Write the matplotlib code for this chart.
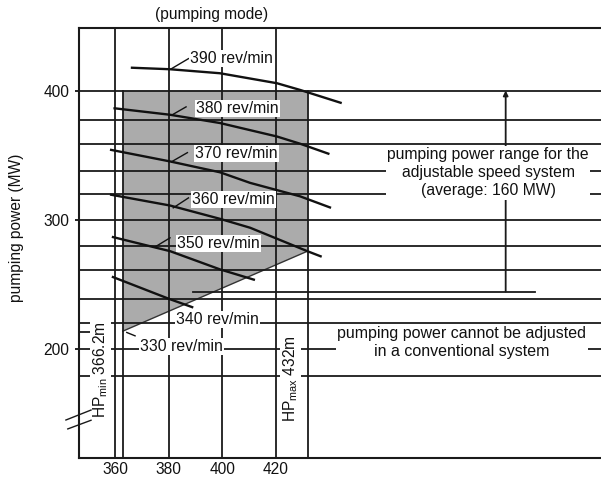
import matplotlib
matplotlib.use('Agg')
import matplotlib.pyplot as plt

plt.rcParams['font.family'] = ['Liberation Sans', 'DejaVu Sans']

# ---------------- data ----------------
x_ticks = [360, 380, 400, 420]
y_ticks = [200, 300, 400]
hp_min_pos = 362.8          # drawn position of the HPmin line
hp_max_pos = 432
h_lines = [400, 377.4, 358.9, 337.5, 320.1, 300, 280, 261.5, 238.9, 220.4, 200, 179.4]

# operating range (grey area)
range_x = [hp_min_pos, hp_max_pos, hp_max_pos, hp_min_pos]
range_y = [400, 400, 275.8, 213.9]

# speed curves
speeds = ['390 rev/min', '380 rev/min', '370 rev/min', '360 rev/min', '350 rev/min', '340 rev/min']
curve_x = [
    [365.8, 380.5, 399.2, 420.5, 429.2, 444.8],
    [359.3, 380.5, 399.2, 420.5, 429.2, 440.2],
    [358.0, 380.5, 399.2, 410.5, 429.2, 440.8],
    [358.0, 380.5, 399.2, 410.5, 431.9, 437.3],
    [358.7, 380.5, 399.2, 412.3],
    [358.7, 380.5, 389.2],
]
curve_y = [
    [417.7, 416.5, 413.4, 405.7, 400.5, 390.3],
    [386.4, 381.3, 374.9, 364.5, 358.9, 350.9],
    [354.3, 345.2, 336.8, 328.6, 318.2, 309.3],
    [319.6, 311.1, 300.8, 293.9, 275.8, 271.5],
    [286.9, 275.8, 261.7, 253.5],
    [256.1, 238.6, 232.2],
]
label_names = ['390 rev/min', '380 rev/min', '370 rev/min', '360 rev/min',
               '350 rev/min', '340 rev/min', '330 rev/min']
label_x = [388.0, 390.2, 389.9, 388.6, 383.2, 382.7, 369.3]
label_y = [425.0, 386.4, 351.2, 315.7, 281.8, 223.1, 202.1]
leader_x = [(381.1, 387.4), (381.1, 386.5), (381.1, 387.0), (381.7, 387.4), (374.9, 380.5), None, (364.3, 367.4)]
leader_y = [(417.0, 424.7), (381.0, 387.4), (345.0, 352.0), (309.3, 317.0), (279.1, 286.1), None, (212.9, 210.3)]

range_top = 400
range_bottom = 244.5
arrow_x = 506.2
range_line_x = (389.0, 517.2)

# ---------------- figure ----------------
fig = plt.figure(figsize=(6.01, 4.79), dpi=100)
ax = fig.add_axes([79 / 601, (479 - 457.5) / 479, (601 - 79) / 601, (457.5 - 28) / 479])
ax.set_xlim(346.4, 541.9)
ax.set_ylim(116.2, 448.4)

lc = '#1a1a1a'
ax.fill(range_x, range_y, color='#ababab', lw=0, zorder=1)
ax.plot([range_x[3], range_x[2]], [range_y[3], range_y[2]], color='#333333', lw=1.0, zorder=2)

for yv in h_lines:
    ax.axhline(yv, color=lc, lw=1.3, zorder=2)
ax.plot([346.4, 351.5], [212.9, 212.9], color=lc, lw=1.3, zorder=2)
for xv in x_ticks:
    ax.axvline(xv, color=lc, lw=1.3, zorder=2)
for xv in (hp_min_pos, hp_max_pos):
    ax.plot([xv, xv], [116.2, 400], color=lc, lw=1.3, zorder=2)

for cx, cy in zip(curve_x, curve_y):
    ax.plot(cx, cy, color='#111111', lw=1.7, zorder=3, solid_capstyle='butt')

for lx, ly in zip(leader_x, leader_y):
    if lx is not None:
        ax.plot(lx, ly, color='#111111', lw=1.0, zorder=3)

box = dict(facecolor='white', edgecolor='none', pad=0.8)
for name, tx, ty in zip(label_names, label_x, label_y):
    ax.text(tx, ty, name, ha='left', va='center', fontsize=11.3, color='#111111',
            bbox=box, zorder=6)

# power range arrow
ax.annotate('', xy=(arrow_x, range_top), xytext=(arrow_x, range_bottom),
            arrowprops=dict(arrowstyle='-|>', color=lc, lw=1.3, mutation_scale=7,
                            shrinkA=0, shrinkB=0), zorder=4)
ax.plot(range_line_x, [range_bottom, range_bottom], color=lc, lw=1.3, zorder=4)

ax.text(499.6, 336.4, 'pumping power range for the\nadjustable speed system\n(average: 160 MW)',
        ha='center', va='center', fontsize=11.3, linespacing=1.25, color='#111111',
        bbox=dict(facecolor='white', edgecolor='none', pad=1.0), zorder=6)
ax.text(489.7, 205.0, 'pumping power cannot be adjusted\nin a conventional system',
        ha='center', va='center', fontsize=11.5, linespacing=1.2, color='#111111',
        bbox=dict(facecolor='white', edgecolor='none', pad=1.0), zorder=6)

ax.text(354.4, 184.5, r'HP$_{\mathregular{min}}$ 366.2m', rotation=90, ha='center', va='center',
        fontsize=11.2, color='#111111', bbox=dict(facecolor='white', edgecolor='none', pad=0.8), zorder=6)
ax.text(425.5, 177.6, r'HP$_{\mathregular{max}}$ 432m', rotation=90, ha='center', va='center',
        fontsize=11.2, color='#111111', bbox=dict(facecolor='white', edgecolor='none', pad=0.8), zorder=6)

# axis break marks
ax.plot([341.5, 350.9], [145.2, 152.9], color=lc, lw=1.0, clip_on=False, zorder=7)
ax.plot([342.2, 350.9], [138.3, 145.0], color=lc, lw=1.0, clip_on=False, zorder=7)

ax.set_xticks(x_ticks)
ax.set_yticks(y_ticks)
ax.tick_params(axis='x', length=0, pad=3.5, labelsize=11.2, colors='#111111')
ax.tick_params(axis='y', length=3, width=1.3, pad=4, labelsize=11.2, colors='#111111')
for s in ('left', 'top', 'bottom'):
    ax.spines[s].set_linewidth(1.5)
    ax.spines[s].set_color(lc)
ax.spines['right'].set_visible(False)

fig.text(211.7 / 601, 1 - 14 / 479, '(pumping mode)', ha='center', va='center', fontsize=11.2, color='#111111')
fig.text(17 / 601, 1 - 228 / 479, 'pumping power (MW)', ha='center', va='center', rotation=90,
         fontsize=11.2, color='#111111')

fig.savefig('out.png', dpi=100)
